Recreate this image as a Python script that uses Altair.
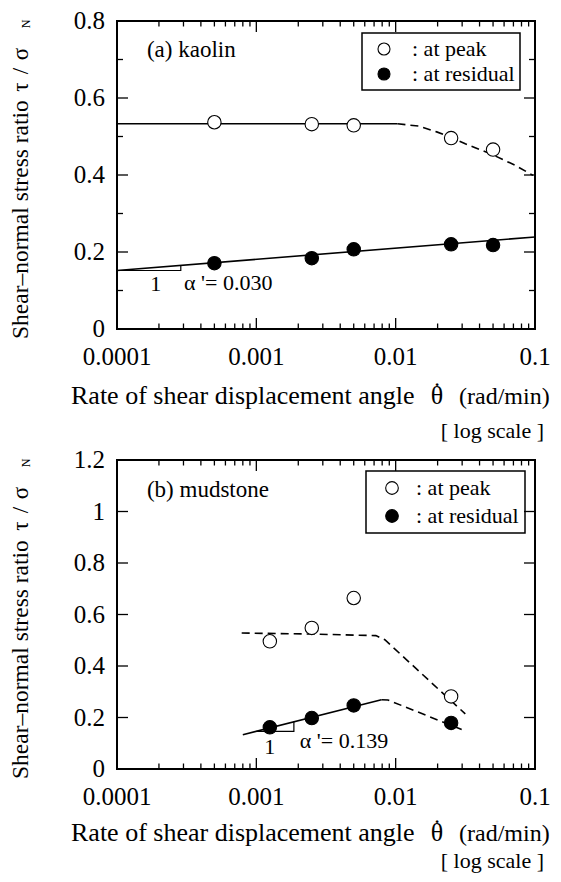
import altair as alt
import pandas as pd

FONT = "Liberation Serif"

# ---------------- (a) kaolin ----------------
ka_rate = [0.0005, 0.0025, 0.005, 0.025, 0.05]
ka_peak = [0.537, 0.532, 0.529, 0.496, 0.466]
ka_resid = [0.171, 0.184, 0.207, 0.220, 0.218]

ka_peak_solid_x = [0.0001, 0.0103]
ka_peak_solid_y = [0.533, 0.533]
ka_peak_dash_x = [0.0103, 0.0147, 0.0197, 0.0246, 0.0316, 0.0494, 0.0721, 0.0968]
ka_peak_dash_y = [0.533, 0.527, 0.512, 0.499, 0.481, 0.453, 0.425, 0.399]
ka_resid_line_x = [0.0001, 0.1]
ka_resid_line_y = [0.152, 0.239]
ka_tri_x = [0.0001, 0.000287, 0.000287]
ka_tri_y = [0.152, 0.152, 0.165]

# ---------------- (b) mudstone ----------------
md_rate = [0.00125, 0.0025, 0.005, 0.025]
md_peak = [0.496, 0.548, 0.664, 0.282]
md_resid = [0.162, 0.198, 0.247, 0.179]

md_peak_dash_x = [0.000785, 0.0025, 0.00721, 0.00836, 0.0316]
md_peak_dash_y = [0.528, 0.524, 0.518, 0.502, 0.214]
md_resid_solid_x = [0.0008, 0.0079]
md_resid_solid_y = [0.133, 0.269]
md_resid_dash_x = [0.0079, 0.0088, 0.0298]
md_resid_dash_y = [0.269, 0.268, 0.153]
md_tri_x = [0.001, 0.00186, 0.00186]
md_tri_y = [0.146, 0.146, 0.184]

# ---------------- ticks and tick labels ----------------
x_major = [0.0001, 0.001, 0.01, 0.1]
x_labels = ["0.0001", "0.001", "0.01", "0.1"]
x_minor = [0.0002, 0.0003, 0.0004, 0.0005, 0.0006, 0.0007, 0.0008, 0.0009,
           0.002, 0.003, 0.004, 0.005, 0.006, 0.007, 0.008, 0.009,
           0.02, 0.03, 0.04, 0.05, 0.06, 0.07, 0.08, 0.09]
ka_y_major = [0, 0.2, 0.4, 0.6, 0.8]
ka_y_labels = ["0", "0.2", "0.4", "0.6", "0.8"]
ka_y_minor = [0.1, 0.3, 0.5, 0.7]
md_y_major = [0, 0.2, 0.4, 0.6, 0.8, 1.0, 1.2]
md_y_labels = ["0", "0.2", "0.4", "0.6", "0.8", "1", "1.2"]
md_y_minor = []

kinds = ["at peak", "at residual"]


def panel(rate, peak, resid, lines, tri, ymax, y_major, y_labels, y_minor, W, H,
          leg, label_txt, label_pos, one_pos, alpha_txt, alpha_pos, xt_base, ls_base):
    xs = alt.Scale(type="log", domain=[0.0001, 0.1])
    ys = alt.Scale(domain=[0, ymax], nice=False, zero=False)
    layers = []

    n = len(rate)
    pts = pd.DataFrame({"rate": rate + rate, "ratio": peak + resid,
                        "kind": [kinds[0]] * n + [kinds[1]] * n})

    def xticks(vals, L):
        if not vals:
            return []
        d = pd.DataFrame({"v": vals})
        b = alt.Chart(d).mark_rule(color="black", strokeWidth=1.3)
        return [
            b.encode(x=alt.X("v:Q", scale=xs, axis=None), y=alt.value(H), y2=alt.value(H - L)),
            b.encode(x=alt.X("v:Q", scale=xs, axis=None), y=alt.value(0), y2=alt.value(L)),
        ]

    def yticks(vals, L):
        if not vals:
            return []
        d = pd.DataFrame({"v": vals})
        b = alt.Chart(d).mark_rule(color="black", strokeWidth=1.3)
        return [
            b.encode(y=alt.Y("v:Q", scale=ys, axis=None), x=alt.value(0), x2=alt.value(L)),
            b.encode(y=alt.Y("v:Q", scale=ys, axis=None), x=alt.value(W), x2=alt.value(W - L)),
        ]

    for xv, yv, dash in lines:
        d = pd.DataFrame({"rate": xv, "ratio": yv, "i": list(range(len(xv)))})
        mk = dict(color="black", strokeWidth=1.6)
        if dash:
            mk["strokeDash"] = [8, 5]
        layers.append(alt.Chart(d).mark_line(**mk).encode(
            x=alt.X("rate:Q", scale=xs, axis=None),
            y=alt.Y("ratio:Q", scale=ys, axis=None),
            order="i:Q"))

    d = pd.DataFrame({"rate": tri[0], "ratio": tri[1], "i": [0, 1, 2]})
    layers.append(alt.Chart(d).mark_line(color="black", strokeWidth=1.2).encode(
        x=alt.X("rate:Q", scale=xs, axis=None),
        y=alt.Y("ratio:Q", scale=ys, axis=None),
        order="i:Q"))

    layers += xticks(x_major, 11) + xticks(x_minor, 5.5)
    layers += yticks(y_major, 11) + yticks(y_minor, 6)

    # tick labels, placed through the scales
    layers.append(alt.Chart(pd.DataFrame({"v": x_major, "lab": x_labels})).mark_text(
        align="center", baseline="top", font=FONT, fontSize=25, color="black"
    ).encode(x=alt.X("v:Q", scale=xs, axis=None), y=alt.value(H + 16), text="lab:N"))
    layers.append(alt.Chart(pd.DataFrame({"v": y_major, "lab": y_labels})).mark_text(
        align="right", baseline="middle", font=FONT, fontSize=25, color="black"
    ).encode(y=alt.Y("v:Q", scale=ys, axis=None), x=alt.value(-12), text="lab:N"))

    points = alt.Chart(pts).mark_point(
        shape="circle", filled=True, size=180, stroke="black", strokeWidth=1.1, opacity=1
    ).encode(
        x=alt.X("rate:Q", scale=xs, axis=None),
        y=alt.Y("ratio:Q", scale=ys, axis=None),
        fill=alt.Fill("kind:N", scale=alt.Scale(domain=kinds, range=["white", "black"]),
                      legend=alt.Legend(
                          title=None, orient="none", legendX=leg["x"], legendY=leg["y"],
                          strokeColor="black", padding=leg["pad"], rowPadding=leg["row"],
                          symbolType="circle", symbolSize=leg["sym"], symbolStrokeColor="black",
                          symbolStrokeWidth=1.1, symbolOffset=leg["soff"],
                          labelOffset=leg["loff"], labelFont=FONT, labelFontSize=22,
                          labelColor="black", labelExpr="': ' + datum.label")),
    )
    layers.append(points)

    def dtext(txt, pos, align, size=23):
        return alt.Chart(pd.DataFrame({"t": [txt], "x": [pos[0]], "y": [pos[1]]})).mark_text(
            align=align, baseline="middle", font=FONT, fontSize=size, color="black"
        ).encode(x=alt.X("x:Q", scale=xs, axis=None), y=alt.Y("y:Q", scale=ys, axis=None),
                 text="t:N")

    layers.append(dtext(label_txt, label_pos, "left"))
    layers.append(dtext("1", one_pos, "center", 22))
    layers.append(dtext(alpha_txt, alpha_pos, "left", 22))

    def ptext(txt, px, py, align, baseline, size, angle=0):
        return alt.Chart(pd.DataFrame({"t": [txt]})).mark_text(
            align=align, baseline=baseline, font=FONT, fontSize=size, color="black",
            angle=angle
        ).encode(x=alt.value(px), y=alt.value(py), text="t:N")

    # y title pieces (rotated)
    TX = -96
    layers.append(ptext("Shear\u2013normal stress ratio", TX, H + 10, "left", "middle", 23.5, 270))
    layers.append(ptext("\u03c4", TX, 66, "center", "middle", 23, 270))
    layers.append(ptext("/", TX, 50, "center", "middle", 23, 270))
    layers.append(ptext("\u03c3", TX, 33, "center", "middle", 23, 270))
    layers.append(ptext("N", TX + 5, 3, "center", "middle", 12, 270))
    # x title pieces
    layers.append(ptext("Rate of shear displacement angle", -46, H + xt_base, "left", "alphabetic", 26))
    layers.append(ptext("\u03b8", W - 98, H + xt_base, "center", "alphabetic", 26))
    layers.append(ptext("\u02d9", W - 98, H + xt_base - 4, "center", "alphabetic", 26))
    layers.append(ptext("(rad/min)", W - 76, H + xt_base, "left", "alphabetic", 24))
    layers.append(ptext("[ log scale ]", W + 9, H + ls_base, "right", "alphabetic", 22))

    return alt.layer(*layers).properties(width=W, height=H)


top = panel(
    ka_rate, ka_peak, ka_resid,
    [(ka_peak_solid_x, ka_peak_solid_y, False),
     (ka_peak_dash_x, ka_peak_dash_y, True),
     (ka_resid_line_x, ka_resid_line_y, False)],
    (ka_tri_x, ka_tri_y), 0.8, ka_y_major, ka_y_labels, ka_y_minor, 418, 308,
    dict(x=245, y=12, pad=5, row=3, sym=144, soff=6, loff=17),
    "(a) kaolin", (0.000164, 0.725), (0.00019, 0.118), "\u03b1 '= 0.030", (0.000303, 0.120),
    75, 109,
)

bottom = panel(
    md_rate, md_peak, md_resid,
    [(md_peak_dash_x, md_peak_dash_y, True),
     (md_resid_solid_x, md_resid_solid_y, False),
     (md_resid_dash_x, md_resid_dash_y, True)],
    (md_tri_x, md_tri_y), 1.2, md_y_major, md_y_labels, md_y_minor, 418, 309,
    dict(x=249, y=11, pad=6, row=6, sym=160, soff=9, loff=13),
    "(b) mudstone", (0.000164, 1.085), (0.00125, 0.084), "\u03b1 '= 0.139", (0.00205, 0.108),
    72, 99,
)

chart = alt.vconcat(top, bottom, spacing=4).resolve_scale(
    y="independent", fill="independent"
).resolve_legend(fill="independent").properties(
    padding=0
).configure_view(stroke="black", strokeWidth=2).configure_legend(strokeWidth=1.5)

chart.save("out.html", embed_options={"renderer": "svg", "actions": False})
